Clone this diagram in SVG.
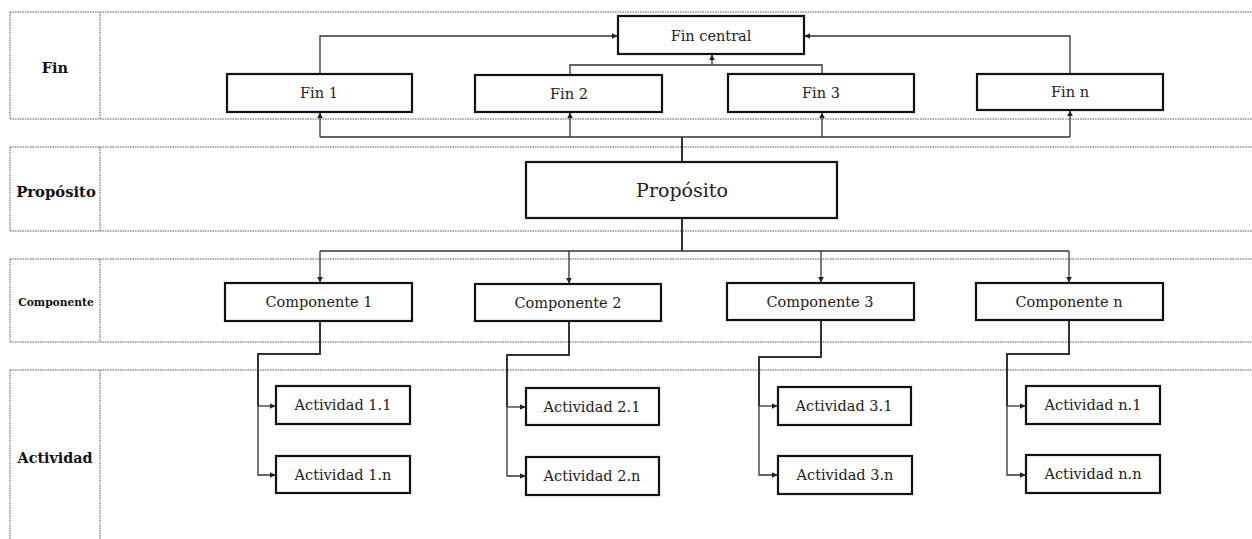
<svg xmlns="http://www.w3.org/2000/svg" width="1252" height="539" viewBox="0 0 1252 539">
<defs>
<marker id="ah" viewBox="0 0 10 10" refX="9" refY="5" markerWidth="6" markerHeight="6" markerUnits="userSpaceOnUse" orient="auto">
<path d="M0,0 L10,5 L0,10 z" fill="#222"/>
</marker>
</defs>
<style>
.row{fill:none;stroke:#555;stroke-width:1;stroke-dasharray:1.5 1}
.box{fill:#fff;stroke:#111;stroke-width:2.2}
.t{font-family:"DejaVu Serif","Liberation Serif",serif;font-size:14.5px;fill:#222;text-anchor:middle;dominant-baseline:central}
.big{font-size:19px}
.lab{font-family:"DejaVu Serif","Liberation Serif",serif;font-weight:bold;font-size:14.5px;fill:#111;text-anchor:middle;dominant-baseline:central}
.c{fill:none;stroke:#333;stroke-width:1.3}
.ca{fill:none;stroke:#333;stroke-width:1.3;marker-end:url(#ah)}
.thick{stroke-width:2}
</style>
<rect width="1252" height="539" fill="#fff"/>
<g id="rows">
<path class="row" d="M10,12 H1252 M10,119 H1252 M10,12 V119 M100,12 V119"/>
<path class="row" d="M10,147 H1252 M10,231 H1252 M10,147 V231 M100,147 V231"/>
<path class="row" d="M10,259 H1252 M10,342 H1252 M10,259 V342 M100,259 V342"/>
<path class="row" d="M10,370 H1252 M10,370 V539 M100,370 V539"/>
<text class="lab" x="55" y="67">Fin</text>
<text class="lab" x="56" y="191" style="font-size:14.8px">Propósito</text>
<text class="lab" x="56" y="302" style="font-size:10.7px">Componente</text>
<text class="lab" x="55" y="458" style="font-size:14.3px">Actividad</text>
</g>
<g id="connectors">
<path class="ca" d="M320,74 V36 H617"/>
<path class="ca" d="M1070,74 V36 H805"/>
<path class="c" d="M570,75 V65 H822 V74"/>
<path class="ca" d="M712,65 V55"/>
<path class="c thick" d="M682,162 V137"/>
<path class="c" d="M320,137 H1070"/>
<path class="ca" d="M320,137 V113"/>
<path class="ca" d="M570,137 V113"/>
<path class="ca" d="M822,137 V113"/>
<path class="ca" d="M1070,137 V111"/>
<path class="c thick" d="M682,218 V251"/>
<path class="c" d="M320,251 H1069"/>
<path class="ca" d="M320,251 V282"/>
<path class="ca" d="M569,251 V283"/>
<path class="ca" d="M821,251 V282"/>
<path class="ca" d="M1069,251 V282"/>
<path class="c thick" d="M320,321 V354 H258 V406"/>
<path class="ca" d="M258,406 H275"/>
<path class="ca" d="M258,406 V475 H275"/>
<path class="c thick" d="M569,321 V355 H507 V407"/>
<path class="ca" d="M507,407 H525"/>
<path class="ca" d="M507,407 V476 H525"/>
<path class="c thick" d="M821,320 V357 H759 V406"/>
<path class="ca" d="M759,406 H777"/>
<path class="ca" d="M759,406 V475 H777"/>
<path class="c thick" d="M1069,320 V354 H1007 V406"/>
<path class="ca" d="M1007,406 H1025"/>
<path class="ca" d="M1007,406 V475 H1025"/>
</g>
<g id="fin-central"><rect class="box" x="618" y="16" width="186" height="38"/><text class="t" x="711" y="36">Fin central</text></g>
<g id="fin-1"><rect class="box" x="227" y="74" width="185" height="38"/><text class="t" x="319" y="93">Fin 1</text></g>
<g id="fin-2"><rect class="box" x="475" y="75" width="187" height="37"/><text class="t" x="569" y="94">Fin 2</text></g>
<g id="fin-3"><rect class="box" x="728" y="74" width="186" height="38"/><text class="t" x="821" y="93">Fin 3</text></g>
<g id="fin-n"><rect class="box" x="977" y="74" width="186" height="36"/><text class="t" x="1070" y="92">Fin n</text></g>
<g id="proposito"><rect class="box" x="526" y="162" width="311" height="56"/><text class="t big" x="682" y="190">Propósito</text></g>
<g id="componente-1"><rect class="box" x="225" y="283" width="187" height="38"/><text class="t" x="319" y="302">Componente 1</text></g>
<g id="componente-2"><rect class="box" x="475" y="284" width="186" height="37"/><text class="t" x="568" y="303">Componente 2</text></g>
<g id="componente-3"><rect class="box" x="727" y="283" width="187" height="37"/><text class="t" x="820" y="302">Componente 3</text></g>
<g id="componente-n"><rect class="box" x="976" y="283" width="187" height="37"/><text class="t" x="1069" y="302">Componente n</text></g>
<g id="actividad-1-1"><rect class="box" x="276" y="386" width="134" height="38"/><text class="t" x="343" y="405">Actividad 1.1</text></g>
<g id="actividad-1-n"><rect class="box" x="276" y="456" width="134" height="37"/><text class="t" x="343" y="475">Actividad 1.n</text></g>
<g id="actividad-2-1"><rect class="box" x="526" y="388" width="133" height="37"/><text class="t" x="592" y="407">Actividad 2.1</text></g>
<g id="actividad-2-n"><rect class="box" x="526" y="457" width="133" height="38"/><text class="t" x="592" y="476">Actividad 2.n</text></g>
<g id="actividad-3-1"><rect class="box" x="778" y="387" width="133" height="38"/><text class="t" x="844" y="406">Actividad 3.1</text></g>
<g id="actividad-3-n"><rect class="box" x="778" y="456" width="134" height="38"/><text class="t" x="845" y="475">Actividad 3.n</text></g>
<g id="actividad-n-1"><rect class="box" x="1026" y="386" width="134" height="38"/><text class="t" x="1093" y="405">Actividad n.1</text></g>
<g id="actividad-n-n"><rect class="box" x="1026" y="455" width="134" height="38"/><text class="t" x="1093" y="474">Actividad n.n</text></g>
</svg>
